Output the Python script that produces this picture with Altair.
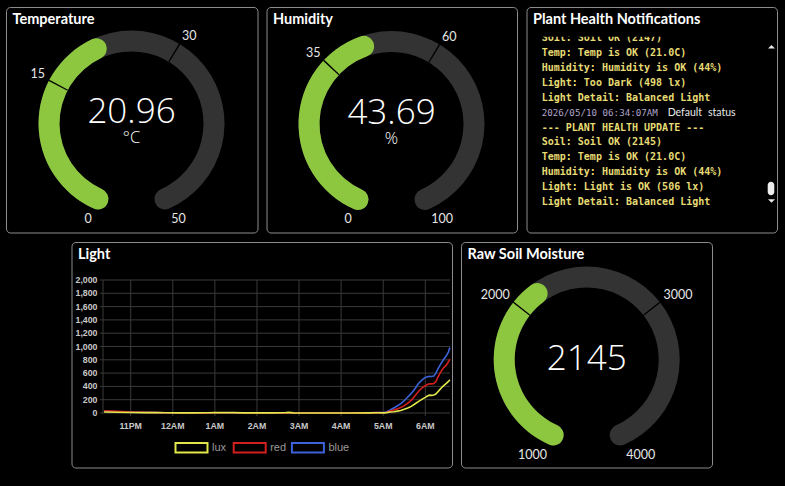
import altair as alt
import pandas as pd

# ---------------------------------------------------------------- readings
gauge_names = ["Temperature", "Humidity", "Raw Soil Moisture"]
gauge_values = [20.96, 43.69, 2145]
gauge_units = ["°C", "%", ""]
gauge_formats = [".2f", ".2f", "d"]
gauge_min = [0, 0, 1000]
gauge_max = [50, 100, 4000]
gauge_low = [15, 35, 2000]
gauge_high = [30, 60, 3000]

# light sensor history (clock time, lux / red / blue channel counts)
light_times = [
    "22:22", "22:40", "23:00", "23:20", "23:35", "23:50", "00:10", "00:30",
    "00:50", "01:00", "01:15", "01:28", "01:40", "02:00", "02:20", "02:40",
    "02:45", "02:52", "03:15", "03:45", "04:15", "04:40", "04:52",
    "05:00", "05:05", "05:10", "05:15", "05:20", "05:25", "05:30", "05:35",
    "05:40", "05:45", "05:50", "05:55", "06:00", "06:03", "06:06", "06:09",
    "06:12", "06:15", "06:18", "06:21", "06:24", "06:27", "06:30", "06:33",
    "06:35",
]
lux = [
    14, 11, 8, 6, 5, 3, 2, 2, 3, 6, 6, 5, 2, 2, 2, 3, 9, 2, 1, 1, 1, 2, 3,
    2, 6, 14, 20, 28, 38, 55, 75, 100, 135, 170, 205, 235, 255, 268, 265,
    270, 285, 320, 355, 390, 420, 445, 475, 500,
]
red = [
    34, 24, 16, 10, 6, 3, 2, 1, 2, 3, 3, 3, 1, 1, 1, 1, 4, 1, 1, 1, 1, 2, 5,
    4, 12, 28, 45, 62, 82, 110, 150, 190, 255, 320, 375, 410, 430, 440, 438,
    445, 470, 540, 600, 650, 690, 720, 770, 810,
]
blue = [
    26, 19, 13, 8, 5, 3, 2, 1, 2, 3, 3, 2, 1, 1, 1, 1, 4, 1, 1, 1, 1, 3, 7,
    5, 20, 45, 75, 105, 140, 185, 240, 295, 360, 440, 495, 535, 545, 550, 548,
    555, 600, 665, 720, 770, 820, 860, 920, 985,
]
light_series = ["lux", "red", "blue"]
light_colors = ["#e3e84a", "#d41f1f", "#3d62d9"]
light_ticks = [0, 200, 400, 600, 800, 1000, 1200, 1400, 1600, 1800, 2000]
light_hours = ["23:00", "00:00", "01:00", "02:00", "03:00", "04:00", "05:00", "06:00"]

# notification log
notes_before = [
    "Soil: Soil OK (2147)",
    "Temp: Temp is OK (21.0C)",
    "Humidity: Humidity is OK (44%)",
    "Light: Too Dark (498 lx)",
    "Light Detail: Balanced Light",
]
note_stamp = ["2026/05/10 06:34:07AM", "Default", "status"]
notes_after = [
    "--- PLANT HEALTH UPDATE ---",
    "Soil: Soil OK (2145)",
    "Temp: Temp is OK (21.0C)",
    "Humidity: Humidity is OK (44%)",
    "Light: Light is OK (506 lx)",
    "Light Detail: Balanced Light",
]

# ---------------------------------------------------------------- layout & style
W, H = 785, 486
PANELS = {
    "Temperature": (6.5, 7.5, 258, 233),
    "Humidity": (267, 7.5, 517.5, 233),
    "Plant Health Notifications": (527, 7.5, 777.5, 233),
    "Light": (72, 242.5, 452.5, 468),
    "Raw Soil Moisture": (461.5, 242.5, 712.5, 468),
}
GAUGE_CENTER = {
    "Temperature": (131.5, 123.5),
    "Humidity": (391.5, 124),
    "Raw Soil Moisture": (586.7, 359.5),
}
VALUE_DY = {"Temperature": -0.5, "Humidity": 0, "Raw Soil Moisture": 10.5}

SWEEP = 2.723          # half of the gauge sweep, radians
R_OUT, R_IN = 93, 72
CAP_R = (R_OUT - R_IN) / 2
CAP = CAP_R / ((R_OUT + R_IN) / 2)   # round-cap overhang in radians
TICK = 0.008
R_LABEL = 97.5

# plot box of the light chart
PX0, PX1, PY0, PY1 = 103, 450, 413, 280

GREEN = "#8dc63f"
TRACK = "#333333"
BORDER = "#8c8c8c"
GRID = "#3a3a3a"
YELLOW = "#e6db74"
SANS = "Lato"
VALUE_FONT = "Open Sans"
MONO = "DejaVu Sans Mono"
AXIS_FONT = "Liberation Sans"

ONE = pd.DataFrame({"k": [0]})
layers = []

# panels and their titles
for title, (x0, y0, x1, y1) in PANELS.items():
    layers.append(
        alt.Chart(ONE).mark_rect(filled=False, stroke=BORDER, strokeWidth=1, cornerRadius=4)
        .encode(x=alt.value(x0), x2=alt.value(x1), y=alt.value(y0), y2=alt.value(y1))
    )
    layers.append(
        alt.Chart(ONE).mark_text(align="left", baseline="alphabetic", font=SANS,
                                 fontWeight="bold", fontSize=14.5, color="white")
        .encode(x=alt.value(x0 + 6), y=alt.value(y0 + 16.8), text=alt.value(title))
    )


# gauges
def gauge(i):
    name = gauge_names[i]
    cx, cy = GAUGE_CENTER[name]
    lo, hi, v = gauge_min[i], gauge_max[i], gauge_values[i]
    sc = alt.Scale(domain=[lo, hi], range=[-SWEEP, SWEEP], zero=False, nice=False)
    pos = dict(x=alt.value(cx), y=alt.value(cy))
    ring = dict(innerRadius=R_IN, outerRadius=R_OUT)
    out = []
    for end, colour in ((hi, TRACK), (v, GREEN)):
        out.append(
            alt.Chart(pd.DataFrame({"a": [lo], "b": [end]}))
            .mark_arc(**ring, cornerRadius=CAP_R, thetaOffset=-CAP, theta2Offset=CAP, color=colour)
            .encode(theta=alt.Theta("a:Q", scale=sc, stack=False), theta2=alt.Theta2("b"), **pos)
        )
    out.append(
        alt.Chart(pd.DataFrame({"a": [gauge_low[i], gauge_high[i]]}))
        .mark_arc(**ring, thetaOffset=-TICK, theta2Offset=TICK, color="black")
        .encode(theta=alt.Theta("a:Q", scale=sc, stack=False), theta2=alt.Theta2("a"), **pos)
    )
    for val, align, base in ((gauge_low[i], "right", "alphabetic"),
                             (gauge_high[i], "left", "alphabetic"),
                             (lo, "right", "top"),
                             (hi, "left", "top")):
        out.append(
            alt.Chart(pd.DataFrame({"a": [val]}))
            .mark_text(radius=R_LABEL, align=align, baseline=base, font=SANS,
                       fontSize=12.5, color="#e6e6e6")
            .encode(theta=alt.Theta("a:Q", scale=sc, stack=False),
                    text=alt.Text("a:Q", format="d"), **pos)
        )
    out.append(
        alt.Chart(pd.DataFrame({"v": [v]}))
        .mark_text(align="center", baseline="alphabetic", font=VALUE_FONT, fontWeight=300,
                   fontSize=35, color="white")
        .encode(x=alt.value(cx), y=alt.value(cy + VALUE_DY[name]),
                text=alt.Text("v:Q", format=gauge_formats[i]))
    )
    if gauge_units[i]:
        out.append(
            alt.Chart(ONE)
            .mark_text(align="center", baseline="alphabetic", font=VALUE_FONT, fontWeight=300,
                       fontSize=16.5, color="white")
            .encode(x=alt.value(cx), y=alt.value(cy + 19.5), text=alt.value(gauge_units[i]))
        )
    return out


for i in range(len(gauge_names)):
    layers += gauge(i)


# light history line chart
def stamp(hm):
    day = "2026-05-09" if int(hm[:2]) >= 12 else "2026-05-10"
    return f"{day}T{hm}:00"


rows = []
for series, values in (("blue", blue), ("red", red), ("lux", lux)):
    for t, val in zip(light_times, values):
        rows.append({"t": stamp(t), "v": val, "series": series})
light_df = pd.DataFrame(rows)

x_scale = alt.Scale(
    domain=[alt.DateTime(year=2026, month=5, date=9, hours=22, minutes=20, seconds=30),
            alt.DateTime(year=2026, month=5, date=10, hours=6, minutes=35, seconds=12)],
    range=[PX0, PX1], nice=False)
y_scale = alt.Scale(domain=[0, 2000], range=[PY0, PY1], nice=False)

ticks_df = pd.DataFrame({"v": light_ticks})
hours_df = pd.DataFrame({"t": [stamp(h) for h in light_hours]})

# grid
layers.append(
    alt.Chart(ticks_df).mark_rule(color=GRID, strokeWidth=1)
    .encode(y=alt.Y("v:Q", scale=y_scale, axis=None), x=alt.value(PX0 - 3), x2=alt.value(PX1))
)
layers.append(
    alt.Chart(hours_df).mark_rule(color=GRID, strokeWidth=1)
    .encode(x=alt.X("t:T", scale=x_scale, axis=None), y=alt.value(PY1), y2=alt.value(PY0 + 3))
)
layers.append(
    alt.Chart(ONE).mark_rule(color=GRID, strokeWidth=1)
    .encode(x=alt.value(PX0), y=alt.value(PY1), y2=alt.value(PY0))
)
# tick labels
layers.append(
    alt.Chart(ticks_df).mark_text(align="right", baseline="middle", font=AXIS_FONT, fontSize=8.8,
                                  fontWeight="bold", color="#c8c8c8")
    .encode(y=alt.Y("v:Q", scale=y_scale, axis=None), x=alt.value(PX0 - 5.5),
            text=alt.Text("v:Q", format=","))
)
layers.append(
    alt.Chart(hours_df).mark_text(align="center", baseline="middle", font=AXIS_FONT, fontSize=8.8,
                                  fontWeight="bold", color="#c8c8c8")
    .encode(x=alt.X("t:T", scale=x_scale, axis=None), y=alt.value(PY0 + 12.7),
            text=alt.Text("t:T", format="%-I%p"))
)
# series
layers.append(
    alt.Chart(light_df).mark_line(strokeWidth=1.6)
    .encode(
        x=alt.X("t:T", scale=x_scale, axis=None),
        y=alt.Y("v:Q", scale=y_scale, axis=None),
        color=alt.Color("series:N", scale=alt.Scale(domain=light_series, range=light_colors),
                        legend=None),
    )
)
# legend: outlined swatch followed by the series name
LEG_X, LEG_Y, SW_W, SW_H, LEG_STEP = 175.5, 447.7, 32, 9.5, 58.2
for k, (name, colour) in enumerate(zip(light_series, light_colors)):
    sx = LEG_X + k * LEG_STEP
    layers.append(
        alt.Chart(ONE).mark_rect(filled=False, stroke=colour, strokeWidth=2)
        .encode(x=alt.value(sx), x2=alt.value(sx + SW_W),
                y=alt.value(LEG_Y - SW_H / 2), y2=alt.value(LEG_Y + SW_H / 2))
    )
    layers.append(
        alt.Chart(ONE).mark_text(align="left", baseline="middle", font=AXIS_FONT, fontSize=11,
                                 color="#9a9a9a")
        .encode(x=alt.value(sx + SW_W + 4.5), y=alt.value(LEG_Y), text=alt.value(name))
    )

# notification log
LOG_X = 541.7
LINE_H = 14.9
layers.append(
    alt.Chart(ONE).mark_text(align="left", baseline="alphabetic", font=MONO, fontSize=10,
                             fontWeight="bold", color=YELLOW, lineHeight=LINE_H)
    .encode(x=alt.value(LOG_X), y=alt.value(41.1), text=alt.value(notes_before))
)
layers.append(
    alt.Chart(ONE).mark_text(align="left", baseline="alphabetic", font=MONO, fontSize=9.2,
                             color="#b0a4cc")
    .encode(x=alt.value(LOG_X), y=alt.value(41.1 + 5 * LINE_H), text=alt.value(note_stamp[0]))
)
for txt, xx in zip(note_stamp[1:], (667.7, 708)):
    layers.append(
        alt.Chart(ONE).mark_text(align="left", baseline="alphabetic", font=SANS, fontSize=10.5,
                                 color="#e8e8e8")
        .encode(x=alt.value(xx), y=alt.value(41.1 + 5 * LINE_H), text=alt.value(txt))
    )
layers.append(
    alt.Chart(ONE).mark_text(align="left", baseline="alphabetic", font=MONO, fontSize=10,
                             fontWeight="bold", color=YELLOW, lineHeight=LINE_H)
    .encode(x=alt.value(LOG_X), y=alt.value(41.1 + 6 * LINE_H), text=alt.value(notes_after))
)
# scroll viewport top edge hides the half-scrolled first line
layers.append(
    alt.Chart(ONE).mark_rect(fill="black")
    .encode(x=alt.value(530), x2=alt.value(766), y=alt.value(26), y2=alt.value(36.8))
)
# scrollbar
for shape, yy in (("M-1,0.5L1,0.5L0,-0.5Z", 46.7), ("M-1,-0.5L1,-0.5L0,0.5Z", 201)):
    layers.append(
        alt.Chart(ONE).mark_point(shape=shape, size=49, filled=True, color="#e8e8e8", opacity=1)
        .encode(x=alt.value(771.5), y=alt.value(yy))
    )
layers.append(
    alt.Chart(ONE).mark_rect(fill="#eeeeee", cornerRadius=3.3)
    .encode(x=alt.value(767.7), x2=alt.value(774.3), y=alt.value(181.7), y2=alt.value(195.3))
)

chart = (
    alt.layer(*layers)
    .resolve_scale(theta="independent")
    .properties(width=W, height=H, padding=0, autosize="none", background="black")
    .configure_view(strokeWidth=0)
)

chart.save("out.html", embed_options={"renderer": "svg", "actions": False})
